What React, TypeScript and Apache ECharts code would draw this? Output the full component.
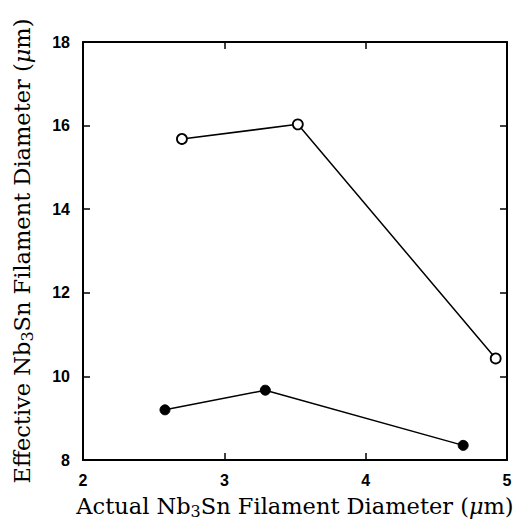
import React, { useEffect, useRef } from "react";
import * as echarts from "echarts";

const openX = [2.7, 3.52, 4.92];
const openY = [15.68, 16.03, 10.43];
const filledX = [2.58, 3.29, 4.69];
const filledY = [9.2, 9.67, 8.35];
const xTicks = [2, 3, 4, 5];
const yTicks = [8, 10, 12, 14, 16, 18];

export default function App() {
  const ref = useRef<HTMLDivElement>(null);
  useEffect(() => {
    if (!ref.current) return;
    const chart = echarts.init(ref.current, null, { renderer: "svg" });
    const serif = "DejaVu Serif";
    const fs = 22.5;
    const rich = {
      a: { fontFamily: serif, fontSize: fs, color: "#000" },
      sub: { fontFamily: serif, fontSize: 16, color: "#000", verticalAlign: "bottom", padding: [10, 0, 0, 0] },
      mu: { fontFamily: serif, fontSize: fs, fontStyle: "italic", color: "#000" },
    };
    const axisCommon = {
      axisLine: { show: true, lineStyle: { color: "#000", width: 2 } },
      axisTick: { show: true, inside: true, length: 7, lineStyle: { color: "#000", width: 1.5 } },
      splitLine: { show: false },
      axisLabel: { color: "#000", fontFamily: "Liberation Sans", fontWeight: "bold", fontSize: 16 },
    };
    chart.setOption({
      animation: false,
      backgroundColor: "#fff",
      grid: { left: 83, right: 15, top: 42, bottom: 60, outerBoundsMode: "none", containLabel: false },
      xAxis: [
        {
          type: "value",
          min: xTicks[0],
          max: xTicks[xTicks.length - 1],
          interval: 1,
          ...axisCommon,
          axisLabel: { ...axisCommon.axisLabel, margin: 12 },
          name: "{a|Actual Nb}{sub|3}{a|Sn Filament Diameter (}{mu|μ}{a|m)}",
          nameLocation: "middle",
          nameGap: 33,
          nameTextStyle: { color: "#000", fontFamily: serif, fontSize: fs, rich },
        },
        {
          type: "value",
          position: "top",
          min: xTicks[0],
          max: xTicks[xTicks.length - 1],
          interval: 1,
          ...axisCommon,
          axisLabel: { show: false },
        },
      ],
      yAxis: [
        {
          type: "value",
          min: yTicks[0],
          max: yTicks[yTicks.length - 1],
          interval: 2,
          ...axisCommon,
          axisLabel: { ...axisCommon.axisLabel, margin: 13 },
          name: "{a|Effective Nb}{sub|3}{a|Sn Filament Diameter (}{mu|μ}{a|m)}",
          nameLocation: "middle",
          nameRotate: 90,
          nameGap: 48,
          nameTextStyle: { color: "#000", fontFamily: serif, fontSize: fs, rich },
        },
        {
          type: "value",
          position: "right",
          min: yTicks[0],
          max: yTicks[yTicks.length - 1],
          interval: 2,
          ...axisCommon,
          axisLabel: { show: false },
        },
      ],
      series: [
        {
          type: "line",
          data: openX.map((x, i) => [x, openY[i]]),
          symbol: "circle",
          symbolSize: 10,
          lineStyle: { color: "#000", width: 1.5 },
          itemStyle: { color: "#fff", borderColor: "#000", borderWidth: 1.8 },
        },
        {
          type: "line",
          data: filledX.map((x, i) => [x, filledY[i]]),
          symbol: "circle",
          symbolSize: 10,
          lineStyle: { color: "#000", width: 1.5 },
          itemStyle: { color: "#000", borderColor: "#000", borderWidth: 1 },
        },
      ],
    });
    return () => chart.dispose();
  }, []);
  return <div ref={ref} style={{ position: "fixed", left: 0, top: 0, width: 522, height: 520 }} />;
}
